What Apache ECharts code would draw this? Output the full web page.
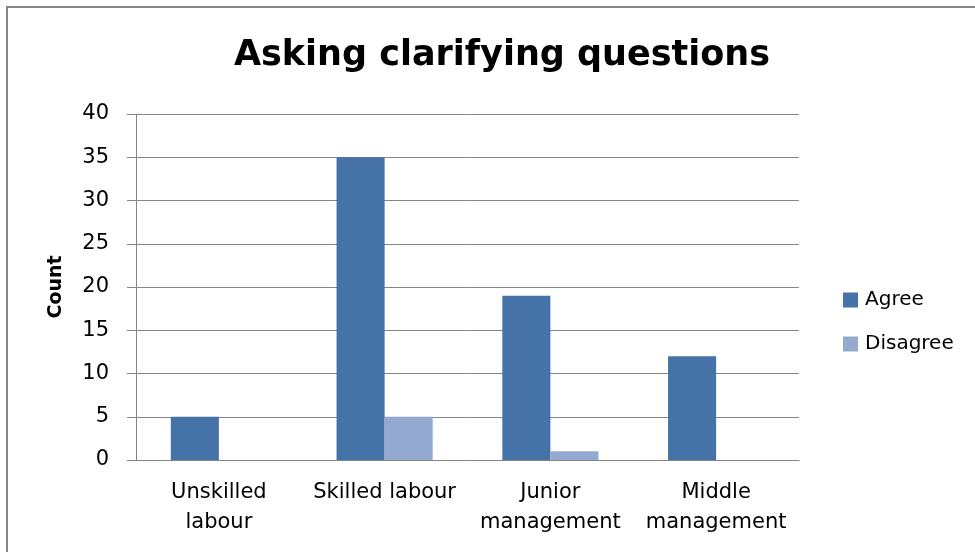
<!DOCTYPE html>
<html>
<head>
<meta charset="utf-8">
<script src="https://cdn.jsdelivr.net/npm/echarts@6/dist/echarts.min.js"></script>
<style>
  html, body { margin: 0; padding: 0; background: #fff; }
  #chart { width: 975px; height: 552px; }
</style>
</head>
<body>
<div id="chart"></div>
<script>
// Survey responses by job level
const categories = ['Unskilled\nlabour', 'Skilled labour', 'Junior\nmanagement', 'Middle\nmanagement'];
const agree = [5, 35, 19, 12];
const disagree = [0, 5, 1, 0];
const yTicks = { min: 0, max: 40, interval: 5 };

const FONT = '"DejaVu Sans", "Open Sans", sans-serif';
const chart = echarts.init(document.getElementById('chart'));

chart.setOption({
  backgroundColor: '#ffffff',
  animation: false,
  textStyle: { fontFamily: FONT },
  title: {
    text: 'Asking clarifying questions',
    left: 497,
    textAlign: 'center',
    top: 33,
    textStyle: { fontFamily: FONT, fontSize: 35, fontWeight: 'bold', color: '#000' }
  },
  graphic: [{
    type: 'rect',
    shape: { x: 7, y: 7, width: 1000, height: 600 },
    style: { fill: 'none', stroke: '#868686', lineWidth: 2 },
    silent: true
  }],
  legend: {
    orient: 'vertical',
    left: 838,
    top: 285,
    icon: 'rect',
    itemWidth: 15,
    itemHeight: 15,
    itemGap: 24,
    textStyle: { fontFamily: FONT, fontSize: 20, color: '#000', padding: [0, 0, 0, 2] },
    data: ['Agree', 'Disagree']
  },
  grid: { left: 136, right: 176, top: 114, bottom: 92, containLabel: false },
  xAxis: {
    type: 'category',
    data: categories,
    axisLine: { lineStyle: { color: '#868686', width: 1 } },
    axisTick: { show: false },
    axisLabel: {
      color: '#000', fontFamily: FONT, fontSize: 21, lineHeight: 30,
      margin: 18, interval: 0
    }
  },
  yAxis: {
    type: 'value',
    min: yTicks.min, max: yTicks.max, interval: yTicks.interval,
    name: 'Count',
    nameLocation: 'middle',
    nameGap: 70,
    nameTextStyle: { fontFamily: FONT, fontSize: 19, fontWeight: 'bold', color: '#000' },
    axisLine: { show: true, lineStyle: { color: '#868686', width: 1 } },
    axisTick: { show: true, length: 9, lineStyle: { color: '#868686' } },
    axisLabel: { color: '#000', fontFamily: FONT, fontSize: 21, margin: 27 },
    splitLine: { lineStyle: { color: '#868686', width: 1 } }
  },
  series: [
    {
      name: 'Agree', type: 'bar', data: agree,
      barGap: '0%', barCategoryGap: '42%',
      itemStyle: { color: '#4572A7' }
    },
    {
      name: 'Disagree', type: 'bar', data: disagree,
      itemStyle: { color: '#93A9CF' }
    }
  ]
});
</script>
</body>
</html>
